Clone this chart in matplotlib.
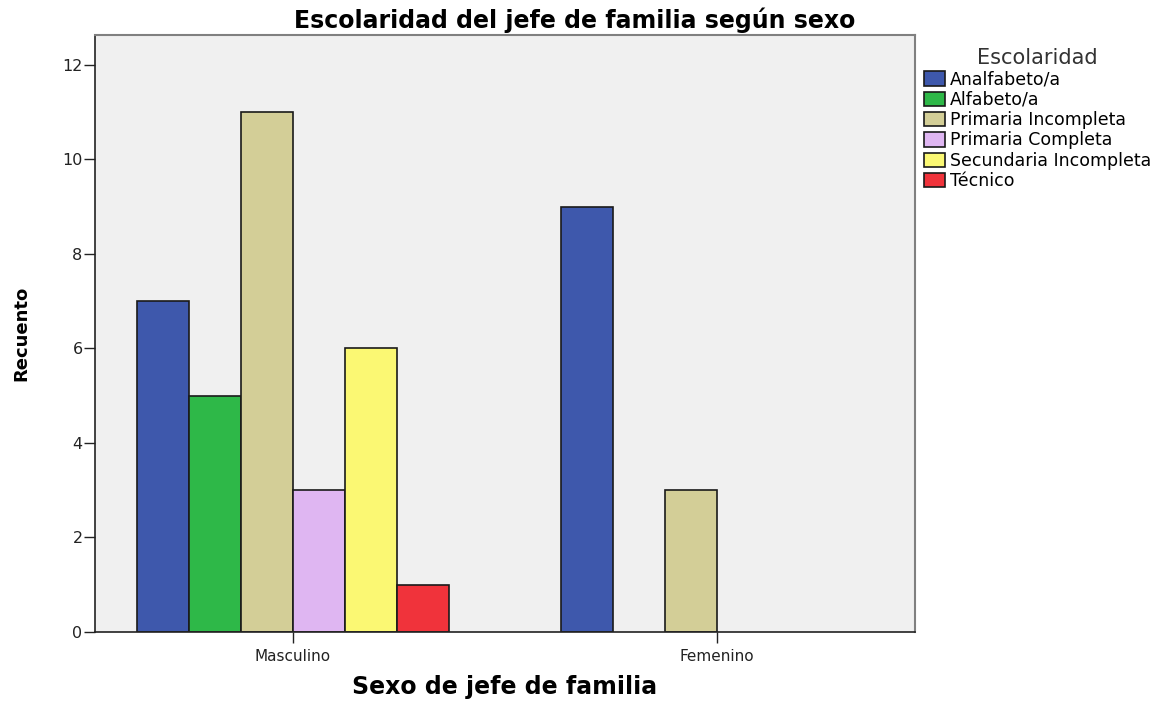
import numpy as np
import matplotlib
matplotlib.use("Agg")
import matplotlib.pyplot as plt

plt.rcParams['font.family'] = ['DejaVu Sans']

# data
sexos = ['Masculino', 'Femenino']
niveles = ['Analfabeto/a', 'Alfabeto/a', 'Primaria Incompleta',
           'Primaria Completa', 'Secundaria Incompleta', 'Técnico']
conteos = {
    'Analfabeto/a': [7, 9],
    'Alfabeto/a': [5, 0],
    'Primaria Incompleta': [11, 3],
    'Primaria Completa': [3, 0],
    'Secundaria Incompleta': [6, 0],
    'Técnico': [1, 0],
}
colores = ['#3E58AC', '#2EB848', '#D3CE97', '#DFB6F2', '#FBF873', '#F0333B']

fig = plt.figure(figsize=(11.72, 7.02), dpi=100)
ax = fig.add_axes([0.0811, 0.0997, 0.6996, 0.8504])
ax.set_facecolor('#F0F0F0')

x = np.arange(len(sexos))
w = 0.1227
for i, (niv, col) in enumerate(zip(niveles, colores)):
    vals = np.array(conteos[niv])
    off = (i - 2.5) * w
    # zero counts get no bar
    mask = vals > 0
    ax.bar(x[mask] + off, vals[mask], width=w, color=col,
           edgecolor='#1a1a1a', linewidth=1.2, label=niv)

ax.set_xlim(-0.467, 1.467)
ax.set_ylim(0, 12.63)
ax.set_yticks([0, 2, 4, 6, 8, 10, 12])
ax.set_xticks(x)
ax.set_xticklabels(sexos, fontsize=11)
ax.tick_params(axis='y', labelsize=11.5, length=8, width=1, pad=1, colors='#222222')
ax.tick_params(axis='x', length=8, width=1, pad=4, direction='out', colors='#222222')
for s in ['top', 'right']:
    ax.spines[s].set_color('#808080')
    ax.spines[s].set_linewidth(1.5)
for s in ['left', 'bottom']:
    ax.spines[s].set_color('#222222')
    ax.spines[s].set_linewidth(1.2)

ax.set_ylabel('Recuento', fontsize=13, fontweight='bold')
ax.yaxis.set_label_coords(-0.079, 0.5)
ax.set_xlabel('Sexo de jefe de familia', fontsize=17, fontweight='bold', labelpad=8)
fig.text(0.49, 0.9715, 'Escolaridad del jefe de familia según sexo',
         fontsize=17, fontweight='bold', ha='center', va='center')

leg = ax.legend(title='Escolaridad', loc='upper left', bbox_to_anchor=(0.998, 0.995),
                frameon=False, fontsize=12.5, title_fontsize=15,
                handlelength=1.2, handleheight=0.9, handletextpad=0.3,
                labelspacing=0.13, borderaxespad=0.2)
leg.get_title().set_color('#333333')

fig.savefig('out.png', dpi=100)
